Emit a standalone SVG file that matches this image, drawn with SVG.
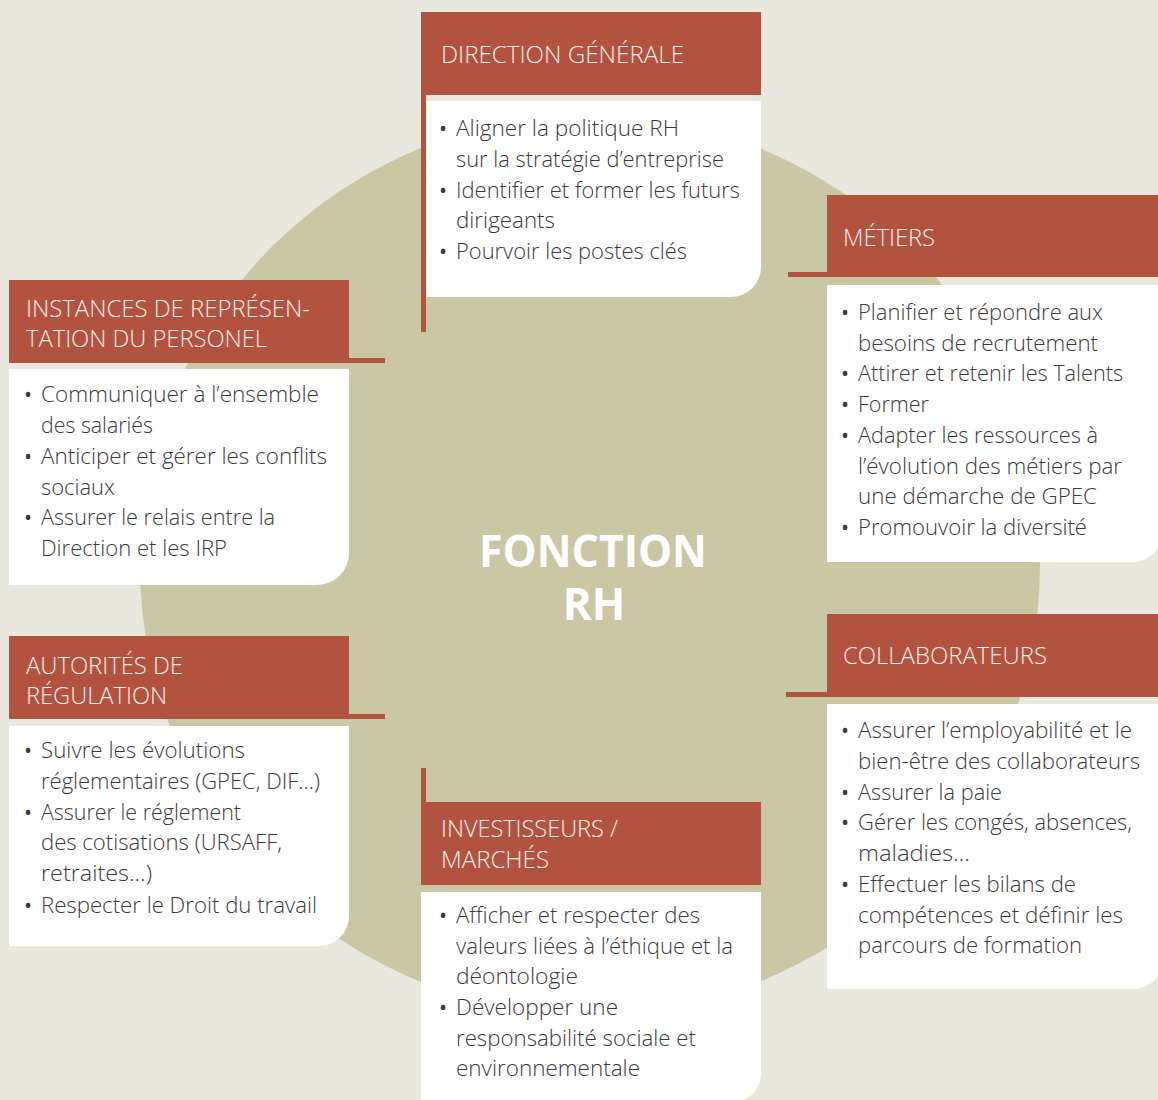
<svg xmlns="http://www.w3.org/2000/svg" width="1158" height="1100" viewBox="0 0 1158 1100">
<style>
.hd{fill:#b1533f}
.bd{fill:#ffffff}
.ln{fill:#b1533f}
.ht{font-family:'Open Sans','Liberation Sans',sans-serif;font-weight:300;font-size:24px;fill:#fbeee9}
.bt{font-family:'Open Sans','Liberation Sans',sans-serif;font-weight:300;font-size:21.5px;fill:#3a3a3a}
.bu{font-family:'Open Sans','Liberation Sans',sans-serif;font-weight:400;font-size:21.5px;fill:#3a3a3a}
.ct{font-family:'Open Sans','Liberation Sans',sans-serif;font-weight:700;font-size:44px;fill:#ffffff;text-anchor:middle}
</style>
<rect width="1158" height="1100" fill="#e8e8df"/>
<circle cx="590" cy="565" r="450" fill="#cac7a4"/>
<g id="center">
<text class="ct"><tspan x="593" y="567" textLength="228" lengthAdjust="spacingAndGlyphs">FONCTION</tspan><tspan x="594" y="620">RH</tspan></text>
</g>
<g id="connectors">
<rect class="ln" x="421" y="95" width="5" height="237"/>
<rect class="ln" x="349" y="358" width="36" height="5"/>
<rect class="ln" x="349" y="714" width="36" height="5"/>
<rect class="ln" x="788" y="272" width="39" height="5"/>
<rect class="ln" x="786" y="692" width="41" height="5"/>
<rect class="ln" x="421" y="768" width="5" height="34"/>
</g>
<g id="direction-generale">
<rect class="hd" x="421" y="12" width="340" height="83"/>
<path class="bd" d="M426,101 H761 V267 A30,30 0 0 1 731,297 H426 Z"/>
<text class="ht" x="441" y="63" textLength="243" lengthAdjust="spacingAndGlyphs">DIRECTION GÉNÉRALE</text>
<text class="bu" x="439" y="136">•</text>
<text class="bt" x="456" y="136" textLength="223" lengthAdjust="spacingAndGlyphs">Aligner la politique RH</text>
<text class="bt" x="456" y="167" textLength="268" lengthAdjust="spacingAndGlyphs">sur la stratégie d’entreprise</text>
<text class="bu" x="439" y="198">•</text>
<text class="bt" x="456" y="198" textLength="284" lengthAdjust="spacingAndGlyphs">Identifier et former les futurs</text>
<text class="bt" x="456" y="228" textLength="99" lengthAdjust="spacingAndGlyphs">dirigeants</text>
<text class="bu" x="439" y="259">•</text>
<text class="bt" x="456" y="259" textLength="231" lengthAdjust="spacingAndGlyphs">Pourvoir les postes clés</text>
</g>
<g id="instances-representation">
<rect class="hd" x="9" y="280" width="340" height="83"/>
<path class="bd" d="M9,369 H349 V553 A32,32 0 0 1 317,585 H9 Z"/>
<text class="ht"><tspan x="26" y="317" textLength="284" lengthAdjust="spacingAndGlyphs">INSTANCES DE REPRÉSEN-</tspan><tspan x="26" y="347" textLength="241" lengthAdjust="spacingAndGlyphs">TATION DU PERSONEL</tspan></text>
<text class="bu" x="24" y="402">•</text>
<text class="bt" x="41" y="402" textLength="278" lengthAdjust="spacingAndGlyphs">Communiquer à l’ensemble</text>
<text class="bt" x="41" y="433" textLength="112" lengthAdjust="spacingAndGlyphs">des salariés</text>
<text class="bu" x="24" y="464">•</text>
<text class="bt" x="41" y="464" textLength="286" lengthAdjust="spacingAndGlyphs">Anticiper et gérer les conflits</text>
<text class="bt" x="41" y="495" textLength="74" lengthAdjust="spacingAndGlyphs">sociaux</text>
<text class="bu" x="24" y="525">•</text>
<text class="bt" x="41" y="525" textLength="234" lengthAdjust="spacingAndGlyphs">Assurer le relais entre la</text>
<text class="bt" x="41" y="556" textLength="186" lengthAdjust="spacingAndGlyphs">Direction et les IRP</text>
</g>
<g id="metiers">
<rect class="hd" x="827" y="195" width="340" height="82"/>
<path class="bd" d="M827,285 H1163 V532 A30,30 0 0 1 1133,562 H827 Z"/>
<text class="ht" x="843" y="246" textLength="92" lengthAdjust="spacingAndGlyphs">MÉTIERS</text>
<text class="bu" x="841" y="320">•</text>
<text class="bt" x="858" y="320" textLength="245" lengthAdjust="spacingAndGlyphs">Planifier et répondre aux</text>
<text class="bt" x="858" y="351" textLength="240" lengthAdjust="spacingAndGlyphs">besoins de recrutement</text>
<text class="bu" x="841" y="381">•</text>
<text class="bt" x="858" y="381" textLength="265" lengthAdjust="spacingAndGlyphs">Attirer et retenir les Talents</text>
<text class="bu" x="841" y="412">•</text>
<text class="bt" x="858" y="412" textLength="71" lengthAdjust="spacingAndGlyphs">Former</text>
<text class="bu" x="841" y="443">•</text>
<text class="bt" x="858" y="443" textLength="240" lengthAdjust="spacingAndGlyphs">Adapter les ressources à</text>
<text class="bt" x="858" y="474" textLength="264" lengthAdjust="spacingAndGlyphs">l’évolution des métiers par</text>
<text class="bt" x="858" y="504" textLength="239" lengthAdjust="spacingAndGlyphs">une démarche de GPEC</text>
<text class="bu" x="841" y="535">•</text>
<text class="bt" x="858" y="535" textLength="229" lengthAdjust="spacingAndGlyphs">Promouvoir la diversité</text>
</g>
<g id="autorites-regulation">
<rect class="hd" x="9" y="636" width="340" height="83"/>
<path class="bd" d="M9,726 H349 V916 A30,30 0 0 1 319,946 H9 Z"/>
<text class="ht"><tspan x="26" y="674" textLength="157" lengthAdjust="spacingAndGlyphs">AUTORITÉS DE</tspan><tspan x="26" y="703.5" textLength="141" lengthAdjust="spacingAndGlyphs">RÉGULATION</tspan></text>
<text class="bu" x="24" y="758">•</text>
<text class="bt" x="41" y="758" textLength="204" lengthAdjust="spacingAndGlyphs">Suivre les évolutions</text>
<text class="bt" x="41" y="789" textLength="279" lengthAdjust="spacingAndGlyphs">réglementaires (GPEC, DIF…)</text>
<text class="bu" x="24" y="820">•</text>
<text class="bt" x="41" y="820" textLength="200" lengthAdjust="spacingAndGlyphs">Assurer le réglement</text>
<text class="bt" x="41" y="850" textLength="241" lengthAdjust="spacingAndGlyphs">des cotisations (URSAFF,</text>
<text class="bt" x="41" y="881" textLength="111" lengthAdjust="spacingAndGlyphs">retraites…)</text>
<text class="bu" x="24" y="913">•</text>
<text class="bt" x="41" y="913" textLength="276" lengthAdjust="spacingAndGlyphs">Respecter le Droit du travail</text>
</g>
<g id="collaborateurs">
<rect class="hd" x="827" y="614" width="340" height="83"/>
<path class="bd" d="M827,704 H1163 V959 A30,30 0 0 1 1133,989 H827 Z"/>
<text class="ht" x="843" y="664" textLength="204" lengthAdjust="spacingAndGlyphs">COLLABORATEURS</text>
<text class="bu" x="841" y="738">•</text>
<text class="bt" x="858" y="738" textLength="274" lengthAdjust="spacingAndGlyphs">Assurer l’employabilité et le</text>
<text class="bt" x="858" y="769" textLength="282" lengthAdjust="spacingAndGlyphs">bien-être des collaborateurs</text>
<text class="bu" x="841" y="800">•</text>
<text class="bt" x="858" y="800" textLength="144" lengthAdjust="spacingAndGlyphs">Assurer la paie</text>
<text class="bu" x="841" y="830">•</text>
<text class="bt" x="858" y="830" textLength="274" lengthAdjust="spacingAndGlyphs">Gérer les congés, absences,</text>
<text class="bt" x="858" y="861" textLength="112" lengthAdjust="spacingAndGlyphs">maladies…</text>
<text class="bu" x="841" y="892">•</text>
<text class="bt" x="858" y="892" textLength="218" lengthAdjust="spacingAndGlyphs">Effectuer les bilans de</text>
<text class="bt" x="858" y="923" textLength="265" lengthAdjust="spacingAndGlyphs">compétences et définir les</text>
<text class="bt" x="858" y="953" textLength="224" lengthAdjust="spacingAndGlyphs">parcours de formation</text>
</g>
<g id="investisseurs-marches">
<rect class="hd" x="421" y="802" width="340" height="83"/>
<path class="bd" d="M421,892 H761 V1073 A30,30 0 0 1 731,1103 H421 Z"/>
<text class="ht"><tspan x="441" y="837" textLength="177" lengthAdjust="spacingAndGlyphs">INVESTISSEURS /</tspan><tspan x="441" y="868" textLength="108" lengthAdjust="spacingAndGlyphs">MARCHÉS</tspan></text>
<text class="bu" x="439" y="923">•</text>
<text class="bt" x="456" y="923" textLength="244" lengthAdjust="spacingAndGlyphs">Afficher et respecter des</text>
<text class="bt" x="456" y="954" textLength="277" lengthAdjust="spacingAndGlyphs">valeurs liées à l’éthique et la</text>
<text class="bt" x="456" y="984" textLength="122" lengthAdjust="spacingAndGlyphs">déontologie</text>
<text class="bu" x="439" y="1015">•</text>
<text class="bt" x="456" y="1015" textLength="162" lengthAdjust="spacingAndGlyphs">Développer une</text>
<text class="bt" x="456" y="1046" textLength="240" lengthAdjust="spacingAndGlyphs">responsabilité sociale et</text>
<text class="bt" x="456" y="1076" textLength="184" lengthAdjust="spacingAndGlyphs">environnementale</text>
</g>
</svg>
